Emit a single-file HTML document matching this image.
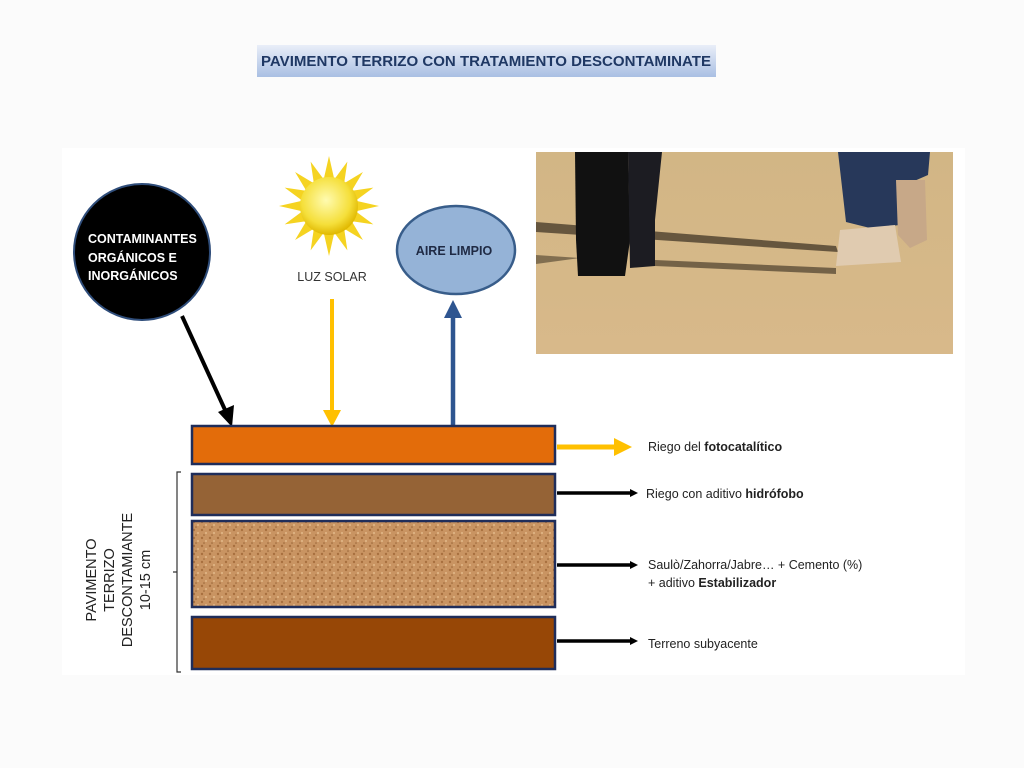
<!DOCTYPE html>
<html><head><meta charset="utf-8"><style>
html,body{margin:0;padding:0;background:#fbfbfb;}
svg{display:block;font-family:"Liberation Sans",sans-serif;}
</style></head><body>
<svg width="1024" height="768" viewBox="0 0 1024 768" xmlns="http://www.w3.org/2000/svg">
<defs>
<linearGradient id="tg" x1="0" y1="0" x2="0" y2="1"><stop offset="0" stop-color="#e9eef8"/><stop offset="1" stop-color="#a9bfe3"/></linearGradient>
<radialGradient id="sun" cx="0.45" cy="0.4" r="0.6"><stop offset="0" stop-color="#fffbb0"/><stop offset="0.7" stop-color="#f5df3a"/><stop offset="1" stop-color="#e0b800"/></radialGradient>
<linearGradient id="sand" x1="0" y1="0" x2="0" y2="1"><stop offset="0" stop-color="#d2b685"/><stop offset="1" stop-color="#d8b98a"/></linearGradient>
<pattern id="grit" width="8" height="8" patternUnits="userSpaceOnUse"><rect width="8" height="8" fill="#c99462"/><circle cx="2" cy="2" r="1.2" fill="#a8703f"/><circle cx="6" cy="5" r="1" fill="#e2b98a"/><circle cx="4" cy="7" r="0.8" fill="#9a6638"/></pattern>
</defs>
<rect x="62" y="148" width="903" height="527" fill="#ffffff"/>
<rect x="257" y="45" width="459" height="32" fill="url(#tg)"/>
<text x="486" y="66" text-anchor="middle" font-size="14.5" font-weight="bold" fill="#1f3864" textLength="450" lengthAdjust="spacingAndGlyphs">PAVIMENTO TERRIZO CON TRATAMIENTO DESCONTAMINATE</text>
<rect x="536" y="152" width="417" height="202" fill="url(#sand)"/>
<path d="M536 222 L836 246 L838 252 L536 232 Z" fill="#4a3d2c" opacity="0.8"/>
<path d="M655 260 L836 268 L836 274 L655 266 Z" fill="#4a3d2c" opacity="0.7"/>
<path d="M536 255 L580 258 L536 264Z" fill="#4a3d2c" opacity="0.6"/>
<path d="M575 152 L628 152 L630 240 L625 276 L578 276 L576 240Z" fill="#111"/>
<path d="M628 152 L662 152 L655 220 L655 266 L630 268Z" fill="#1c1c22"/>
<path d="M838 152 L930 152 L928 175 L905 185 L900 225 L870 228 L846 222Z" fill="#27385a"/>
<path d="M896 180 L925 180 L927 240 L910 248 L898 235Z" fill="#c7a888"/>
<path d="M840 230 L895 225 L901 262 L836 266 Z" fill="#e0cbb0"/>
<circle cx="142" cy="252" r="68" fill="#000" stroke="#2f4d7a" stroke-width="2"/>
<text font-size="12.5" font-weight="bold" fill="#fff"><tspan x="88" y="243">CONTAMINANTES</tspan><tspan x="88" y="262">ORGÁNICOS E</tspan><tspan x="88" y="280">INORGÁNICOS</tspan></text>
<g transform="translate(329,206)">
<g fill="#f5d321">
<polygon points="0,-50 5,-28 -5,-28"/><polygon points="0,50 5,28 -5,28"/><polygon points="-50,0 -28,5 -28,-5"/><polygon points="50,0 28,5 28,-5"/>
<g transform="rotate(22.5)"><polygon points="0,-48 5,-28 -5,-28"/><polygon points="0,48 5,28 -5,28"/><polygon points="-48,0 -28,5 -28,-5"/><polygon points="48,0 28,5 28,-5"/></g>
<g transform="rotate(45)"><polygon points="0,-48 5,-28 -5,-28"/><polygon points="0,48 5,28 -5,28"/><polygon points="-48,0 -28,5 -28,-5"/><polygon points="48,0 28,5 28,-5"/></g>
<g transform="rotate(67.5)"><polygon points="0,-48 5,-28 -5,-28"/><polygon points="0,48 5,28 -5,28"/><polygon points="-48,0 -28,5 -28,-5"/><polygon points="48,0 28,5 28,-5"/></g>
</g>
<circle r="29" fill="url(#sun)"/>
</g>
<text x="332" y="281" text-anchor="middle" font-size="12.5" fill="#333">LUZ SOLAR</text>
<ellipse cx="456" cy="250" rx="59" ry="44" fill="#95b3d7" stroke="#385d8a" stroke-width="2.5"/>
<text x="454" y="255" text-anchor="middle" font-size="12.5" font-weight="bold" fill="#1f2a44">AIRE LIMPIO</text>
<line x1="182" y1="316" x2="226" y2="412" stroke="#000" stroke-width="4"/>
<polygon points="218,412 234,405 232,427" fill="#000"/>
<line x1="332" y1="299" x2="332" y2="412" stroke="#ffc000" stroke-width="4"/>
<polygon points="323,410 341,410 332,427" fill="#ffc000"/>
<line x1="453" y1="426" x2="453" y2="316" stroke="#2e5590" stroke-width="4.5"/>
<polygon points="444,318 462,318 453,300" fill="#2e5590"/>
<rect x="192" y="426" width="363" height="38" fill="#e36c0a" stroke="#1f2d5a" stroke-width="2.5"/>
<rect x="192" y="474" width="363" height="41" fill="#956336" stroke="#1f2d5a" stroke-width="2.5"/>
<rect x="192" y="521" width="363" height="86" fill="url(#grit)" stroke="#1f2d5a" stroke-width="2.5"/>
<rect x="192" y="617" width="363" height="52" fill="#974706" stroke="#1f2d5a" stroke-width="2.5"/>
<path d="M181 472 L177 472 L177 672 L181 672 M177 572 L173 572" fill="none" stroke="#333" stroke-width="1.2"/>
<text transform="translate(115,580) rotate(-90)" text-anchor="middle" font-size="14.5" fill="#222"><tspan x="0" y="-19">PAVIMENTO</tspan><tspan x="0" y="-1">TERRIZO</tspan><tspan x="0" y="17">DESCONTAMIANTE</tspan><tspan x="0" y="35">10-15 cm</tspan></text>
<line x1="557" y1="447" x2="616" y2="447" stroke="#ffc000" stroke-width="5"/>
<polygon points="614,438 632,447 614,456" fill="#ffc000"/>
<g stroke="#000" stroke-width="3.5"><line x1="557" y1="493" x2="632" y2="493"/><line x1="557" y1="565" x2="632" y2="565"/><line x1="557" y1="641" x2="632" y2="641"/></g>
<g fill="#000"><polygon points="630,489 638,493 630,497"/><polygon points="630,561 638,565 630,569"/><polygon points="630,637 638,641 630,645"/></g>
<g font-size="12.5" fill="#222">
<text x="648" y="451">Riego del <tspan font-weight="bold">fotocatalítico</tspan></text>
<text x="646" y="498">Riego con aditivo <tspan font-weight="bold">hidrófobo</tspan></text>
<text x="648" y="569">Saulò/Zahorra/Jabre… + Cemento (%)</text>
<text x="648" y="587">+ aditivo <tspan font-weight="bold">Estabilizador</tspan></text>
<text x="648" y="648">Terreno subyacente</text>
</g>
</svg>
</body></html>
